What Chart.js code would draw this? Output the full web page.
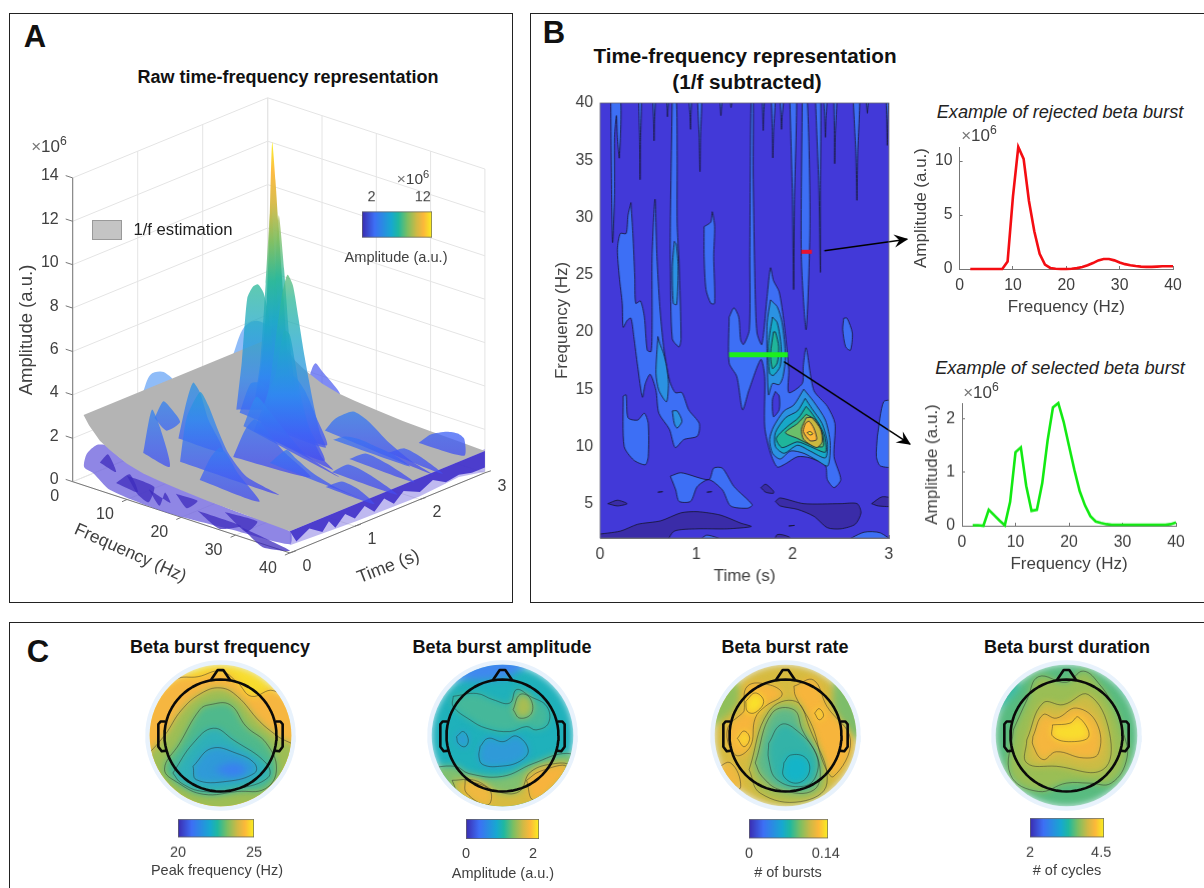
<!DOCTYPE html>
<html>
<head>
<meta charset="utf-8">
<title>Beta bursts</title>
<script src="https://cdn.jsdelivr.net/npm/chart.js@4"></script>
<style>
html,body{margin:0;padding:0;background:#fff;overflow:hidden}
#page{position:relative;width:1204px;height:888px;font-family:"Liberation Sans",Arial,sans-serif;color:#333}
#page canvas{position:absolute}
.box{position:absolute;border:1.4px solid #222;box-sizing:border-box}
.t{position:absolute;white-space:nowrap;transform:translate(-50%,-50%)}
.t sup{font-size:.72em;line-height:0}
</style>
</head>
<body>
<div id="page"></div>
<script>
'use strict';
// ---------- panel B, right side spectra
const freqHz = [2,3,4,5,6,7,8,9,10,11,12,13,14,15,16,17,18,19,20,21,22,23,24,25,26,27,28,29,30,31,32,33,34,35,36,37,38,39,40];
const rejected = [0,0,0,0,0,0,0,.7,6.7,11.3,10.2,6.3,3.5,1.4,.4,.1,.03,0,0,.02,.08,.18,.35,.55,.8,.92,.92,.8,.6,.45,.35,.27,.22,.2,.2,.22,.25,.25,.25];
const selected = [.01,.01,0,.3,.2,.1,.01,.45,1.38,1.47,.75,.28,.3,.8,1.6,2.22,2.3,1.95,1.5,1.05,.65,.38,.18,.08,.05,.03,.02,.02,.02,.02,.02,.02,.02,.02,.02,.02,.02,.03,.06];

// ---------- panel B contours, [time s, freq Hz]
const level0 = [[0,2],[3,2],[3,40],[0,40]];
const levelDark = [
 [[0,2.3],[.21,2.6],[.39,3.2],[.63,3.5],[.84,4.2],[1.01,4.3],[1.25,4],[1.46,3.3],[1.57,3],[1.32,2.8],[1.01,2.8],[.77,2.6],[.66,2],[0,2]],
 [[.08,5],[.18,5.3],[.28,5],[.18,4.8]],
 [[1.82,5.2],[1.87,5.5],[2.115,5],[2.5,5],[2.67,5],[2.71,4.2],[2.65,3.2],[2.5,2.8],[2.36,2.9],[2.22,3.9],[2.05,4.5],[1.87,4.8]],
 [[1.67,6.4],[1.72,6.7],[1.8,6.1],[1.8,5.9],[1.72,6]],
 [[2.82,5],[2.93,5.6],[3,5.4],[3,4.8],[2.89,4.8]],
 [[1.8,2],[1.84,2.3],[1.96,2.1],[2.01,2]],
 [[.6,6],[.65,6.05],[.6,6]],[[1.11,6],[1.16,6.05],[1.11,6]],[[1.96,3.05],[2.02,3.1],[1.96,3.05]]
];
// fingers hanging from the top edge: left t, right t, tip t, tip f
const topFingers = [[.40,.43,.415,33.3],[.546,.574,.56,36.7],[.69,.715,.70,38.8],[.92,.95,.94,37.7],[1.01,1.055,1.037,34],[1.24,1.27,1.255,38.9],[1.35,1.375,1.36,39.6],[1.683,1.707,1.694,37.6],[1.777,1.82,1.794,35.2],[1.867,1.908,1.884,37.7],[1.97,2.04,2.01,23.7],[2.236,2.29,2.288,25.2],[2.32,2.357,2.34,37],[2.427,2.46,2.437,34.7],[2.627,2.696,2.668,31.5],[2.76,2.79,2.776,39.1],[2.97,2.997,2.983,36.3]];
const level1 = [
 [[.11,40],[.12,32],[.13,27.8],[.15,32],[.15,37],[.17,38.9],[.18,37],[.2,35.2],[.21,40]],
 [[2.1,40],[2.09,26.6],[2.14,20.2],[2.18,29.5],[2.15,40]],
 [[.32,31.3],[.34,28.6],[.36,24.8],[.37,22.5],[.42,22.7],[.46,21.3],[.49,18.4],[.53,18.3],[.54,20.8],[.54,26.6],[.57,31.6],[.59,26.6],[.62,22.2],[.66,18.7],[.72,15.8],[.78,14.7],[.85,14.7],[.92,13.2],[1.03,12],[1.01,10.9],[.87,10.6],[.78,9.9],[.72,11.5],[.61,12.9],[.58,14.9],[.52,16.3],[.47,15.5],[.44,14.3],[.39,17],[.35,19.6],[.32,21.2],[.28,21],[.24,20.4],[.23,22.5],[.2,24.8],[.18,27.2],[.21,28.6],[.27,28.6],[.29,30.2]],
 [[.75,40],[.74,35.3],[.73,29.5],[.73,26],[.75,19.4],[.82,18.7],[.84,19.4],[.82,26],[.8,29.5],[.8,35.3],[.79,40]],
 [[1.08,29.2],[1.15,29.6],[1.165,30.5],[1.19,29.2],[1.18,26.6],[1.19,22.5],[1.15,22.5],[1.1,23.7],[1.08,26.6]],
 [[1.34,21.3],[1.39,22.1],[1.44,21.3],[1.46,19.3],[1.49,18.9],[1.55,20.2],[1.555,26.6],[1.56,33.8],[1.57,40],[1.59,40],[1.59,33.8],[1.61,23.7],[1.63,19.9],[1.68,18.9],[1.735,23.1],[1.77,25.6],[1.8,24.5],[1.86,23.5],[1.91,20.8],[1.96,16.7],[1.96,14.7],[2.1,15.5],[2.11,17],[2.14,18.6],[2.22,14.9],[2.36,13.5],[2.44,12],[2.43,9.1],[2.5,7.1],[2.43,6.4],[2.36,7.1],[2.34,8.3],[2.18,9],[2.05,9.1],[1.93,8.5],[1.84,8.2],[1.77,9.4],[1.71,11.7],[1.71,16.1],[1.67,17.6],[1.545,14.9],[1.48,13.2],[1.42,16.1],[1.34,17.3]],
 [[.24,14.4],[.27,14.5],[.29,12.5],[.39,12.3],[.46,12.9],[.5,12],[.5,9.1],[.47,8.4],[.35,8.8],[.25,10]],
 [[.73,7.4],[.84,7.7],[1.13,7.1],[1.18,8.1],[1.27,8.1],[1.39,6.5],[1.58,4.9],[1.53,4.6],[1.355,4.8],[1.27,6.2],[1.13,7.1],[1.01,6.5],[.94,5.2],[.82,5.2],[.785,6.2]],
 [[2.88,10.9],[2.945,13.9],[3,13.9],[3,8.3],[2.91,8.3],[2.87,9.1]],
 [[2.53,21.2],[2.565,21.2],[2.62,19.9],[2.6,18.4],[2.55,18.7],[2.52,20.2]],
 [[1,2],[1.11,2.25],[1.35,2]],[[2.5,2],[2.74,2.5],[2.91,2.45],[3,2]]
];
const levelHole = [[[1.82,14.8],[1.79,14.1],[1.8,12.6],[1.86,13.2],[1.86,14.4]]];
const level2 = [
 [[.6,19.6],[.58,16.4],[.61,14.9],[.69,13.9],[.71,15.5],[.69,17],[.66,18.1],[.62,19]],
 [[.75,13.1],[.77,12],[.8,11.6],[.85,12.2],[.8,13.1]],
 [[.77,27.9],[.75,25.7],[.76,22.5],[.795,22.4],[.81,25.7],[.79,27.7]],
 [[1.77,22.8],[1.735,20.8],[1.735,17.9],[1.75,14.5],[1.79,15.5],[1.86,15.4],[1.9,16.1],[1.925,17.9],[1.89,20.8],[1.84,22.2]],
 [[2.115,15],[2.01,13.6],[1.91,13.1],[1.8,11.7],[1.76,10.6],[1.79,9.4],[1.87,8.9],[1.98,9.6],[2.115,9.4],[2.25,8.8],[2.365,8.3],[2.39,10.3],[2.34,12.3],[2.22,13.9]]
];
const level3 = [
 [[1.79,21.3],[1.75,19],[1.76,16.4],[1.8,16.2],[1.87,17],[1.88,18.7],[1.84,20.8]],
 [[2.13,14.2],[2.05,13.1],[1.925,12.5],[1.82,11.2],[1.82,10],[1.91,9.4],[2.05,10.1],[2.18,9.6],[2.34,9],[2.36,10.3],[2.305,12],[2.2,13.3]]
];
const level4 = [
 [[1.8,20],[1.77,18.1],[1.79,16.8],[1.84,17.3],[1.855,18.7],[1.82,20]],
 [[2.14,13.5],[2.06,12.5],[1.94,11.7],[1.83,10.7],[1.89,9.9],[2.05,10.4],[2.18,10],[2.34,9.5],[2.33,10.9],[2.27,12],[2.19,13]]
];
const level5 = [[[2.14,12.8],[2.05,12],[1.925,11.2],[2.05,10.7],[2.2,10.1],[2.315,10],[2.305,11.2],[2.24,12.3]]];
const level6 = [[[2.14,12.5],[2.09,11.5],[2.115,10.6],[2.25,9.9],[2.305,10.4],[2.29,11.5],[2.2,12.5]]];
const level7 = [[[2.13,12],[2.11,11.3],[2.18,10.5],[2.25,10.6],[2.22,11.6],[2.17,12.2]]];
const level8 = [[[2.15,11.2],[2.18,11],[2.21,11.1],[2.18,11.3]]];
const rejectedBurst = [[2.09,27],[2.2,27]];
const selectedBurst = [[1.34,18],[1.95,18]];
const rejectedArrow = [[2.33,27.1],[3.19,28.1]];
const selectedArrow = [[1.91,17.4],[3.22,10.2]];

// ---------- panel A, 1/f plane and spectrum cuts through the surface
const planeF = [2,3,5,7,10,13,16,20,25,30,35,40];
const planeA = [3.24,2.85,2.3,2,1.65,1.45,1.35,1.25,1.15,1.1,1.05,1];
const backT = [2.3,.9,2.4];
const backF = [[2,4,6.3,9,11.2],[2.2,3.5,5.3,6.5,7.5],[14.7,15.9,17,20.5]];
const backA = [[3.18,4.6,5.1,5,4.65],[3.22,4.1,4.4,4.4,4.2],[3,3.8,3.6,2.73]];
const cutT = [2.25,2.15,2.05,1.9,1.85,1.8,1.75,1.7,2.2,1.85,2.75,1.6,1.4,1.1,1,.8,.75,.55,.45,2.35,2.0,1.65,1.3];
const cutF = [
 [8,9,10,11,12,13,14,15],[8,9,10,10.5,11,11.6,12.2,13,14,15,16],[9,10,11,12,13,14,15,16],[8,10,12,14,16,18,20,22,24],[8,9,10,11,12,13,14,15,16],
 [13,14,15,16,17,18,19,20,21,22,23,24,25],[13,15,16,17,18,19,20,21,23,25,27],[13,15,17,19,21,23,26],
 [20.1,22,25.3,28,32,36,40],[25.8,28,30.8,34,37,40],[30.8,33,36,38,39.2,39.2],
 [12.3,14.7,17,20,24,30],[12.8,15,16.8,19,22,27],[23.1,26.2,28,31,35,39.5],[7.5,9,10.2,11.5,13,15.7],
 [5.5,7.1,8.5,10.2,7.7],[10.8,12,14.5,16,18,19.7,23,29],[6.4,8,9.5,11.3],[18,20,21.7,23,25,29],
 [30,33,36,40],[27,30,34,39],[28,31,35,40],[31,34,37,40]
];
const cutA = [
 [2,3.5,6,10.4,8,4.8,2.8,1.6],[1.9,3.5,6.5,10,13.9,12.2,10,7.2,3.8,2.1,1.4],[2,3.8,7.5,11.2,7.5,4.2,2.4,1.5],[1.5,3,3.2,3,3.5,4,3.5,2.5,1.3],[1.7,4,7,7.6,7.8,7.5,6.5,4.5,2.5],
 [1.5,2.5,4,6,7.8,8.8,8.4,7,5.5,4.2,3,2,1.4],[1.2,2.4,3.6,5,6.3,6.2,5,3.6,1.9,1,.6],[1.3,2.8,4.2,4.6,3.8,2.4,1],
 [1.3,2,2.6,2.4,1.7,1.2,.9],[1.77,2.1,2.2,2.1,2,1.7],[.93,1.5,1.87,1.95,1.8,1.03],
 [1.6,3.15,2.7,2,1.2,.7],[.47,1.9,2.53,2.2,1.5,.7],[1.4,2.26,2,1.6,1.3,1.15],[1.38,3.2,4.17,3.8,2.7,1.44],
 [2.4,3.3,3.1,2.6,2],[.88,3,4.4,3.9,2.8,2,1.2,.84],[1.17,3.3,2.6,.94],[1,2.2,2.8,2.6,1.9,.9],
 [.9,1.35,1.2,.75],[.8,1.3,1.15,.7],[.7,1.3,1.15,.65],[.7,1.2,1.1,.65]
];
// under the plane, front edge at t=0
const underF = [6,4.4,2.6,2.1,3.8,6.9,17.3,29.6,40,40,30,20,10];
const underA = [2.2,2.05,1.5,.85,.7,.18,0,.2,.4,1,1.1,1.3,1.7];
const shardF = [[8,10.5,12],[14,16,17,18],[23,27,31],[31,35,40],[10,12,14,15],[5,6.5,8],[19,21,23],[28,32,34]];
const shardA = [[.6,1.2,.5],[.8,.2,.9,.5],[.55,.05,.5],[.45,-.15,.1],[1.1,.4,.2,1],[1.3,1.8,1.1],[1,.5,1],[.9,.3,.95]];
// right edge at f=40
const edgeT = [0,.1,.3,.5,.6,.7,.85,1,1.15,1.3,1.45,1.6,1.75,2,2.2,2.4,2.6,2.8,3,3,2,1,0];
const edgeA = [1,.4,.75,.35,.72,.3,.75,.35,.75,.3,.72,.3,.7,.35,.65,.3,.4,.25,.25,1,1,1,1];
const edgeSoftT = [0,1,2,2.6,3,3,0];
const edgeSoftA = [.35,.2,.15,.3,.05,1.1,1];
const ampTicks = [0,2,4,6,8,10,12,14];
const freqTicks = [10,20,30,40];
const timeTicks = [0,1,2,3];

// ---------- panel C maps, head radius = 1
const mapColors = [
 ['#f7dc2e','#f6b640','#9dbe55','#4fb98c','#2fb0b8','#2f9ad8','#3a80f0'],
 ['#1fb1bb','#3f88ee','#45b89a','#a8bd52','#2f9ad8','#2f9ad8','#7fc070','#d6bb40','#f7b33d','#f0b840'],
 ['#d6bb40','#8fbf5a','#7dbd6a','#f7b53c','#f7b53c','#f0b840','#a8bd52','#5fb98a','#33b3a8','#14b4c8','#f9e12a','#f9d830','#f9d830'],
 ['#58bb80','#35b9a0','#35b9a0','#9abe55','#ccbc45','#f5b63e','#f9dc2e']
];
const mapFrequency = [
 [[-1.4,.5],[-.8,1],[-.4,1.05],[0,1.15],[.3,.95],[.55,.7],[.95,.8],[1.4,.4],[1.4,-.3],[1.4,-1.5],[-1.4,-1.5],[-1.4,-.3]],
 [[-1.4,-.45],[-1,0],[-.7,.45],[-.35,.75],[0,.85],[.3,.7],[.7,.25],[1,0],[1.4,-.3],[1.4,-1.5],[-1.4,-1.5]],
 [[-.73,-.14],[-.37,.46],[-.19,.55],[.17,.55],[.46,.16],[.82,-.14],[1,-.6],[.8,-.95],[.3,-1],[-.3,-1.05],[-.75,-.85],[-1,-.6]],
 [[-.85,-.67],[-.49,-.14],[-.13,.13],[.23,-.08],[.82,-.5],[.85,-.75],[.3,-.95],[-.3,-1],[-.7,-.85]],
 [[-.49,-.55],[-.16,-.23],[.29,-.32],[.61,-.5],[.61,-.67],[.11,-.82],[-.43,-.79]],
 [[-.13,-.61],[.23,-.49],[.46,-.61],[.23,-.73]]
];
const mapAmplitude = [
 [[-1,1],[-.2,1],[.2,1.1],[.5,1.4],[-.6,1.5]],
 [[-.88,.7],[-.46,.75],[-.17,.64],[.13,.58],[.25,.82],[.49,.7],[.79,.52],[.82,.22],[.6,.1],[.43,.16],[.13,.07],[-.29,.13],[-.58,.28],[-.88,.52]],
 [[.19,.46],[.31,.73],[.49,.67],[.52,.4],[.31,.31]],
 [[-.4,-.2],[-.26,-.05],[.01,-.11],[.25,-.01],[.46,-.26],[.31,-.46],[-.05,-.55],[-.35,-.52],[-.42,-.38]],
 [[-.82,-.02],[-.7,.07],[-.61,-.08],[-.67,-.2],[-.79,-.14]],
 [[-1.4,-.6],[-.85,-.55],[-.6,-.68],[0,-.73],[.55,-.5],[1.15,-.32],[1.4,-.5],[1.4,-1.5],[-1.4,-1.5]],
 [[-.9,-.8],[-.5,-.8],[-.1,-1],[.3,-1],[.5,-.65],[.95,-.5],[1.2,-.55],[1.1,-.9],[.6,-1.4],[-.6,-1.4]],
 [[.43,-.8],[.67,-.64],[1.14,-.55],[.9,-.91],[.55,-1.15]],
 [[-.67,-.79],[-.23,-.97],[-.26,-1.24],[-.64,-1.03]]
];
const mapRate = [
 [[-1.4,.1],[-.9,.5],[-.85,.9],[-1.1,1.1],[-1.5,.4]],
 [[.85,.95],[.9,.4],[1.4,-.1],[1.5,.5],[1.1,1.1]],
 [[-.74,.43],[-.68,.88],[-.27,.9],[-.06,.73],[-.36,.52],[-.54,.31],[-.63,-.2],[-.89,-.35],[-1.04,.1]],
 [[.15,.88],[.5,.99],[.74,.52],[1.16,-.08],[.86,-.73],[.68,-.5],[.48,.16],[.18,.7]],
 [[-1.25,-.6],[-.98,-.49],[-.8,-.91],[-1,-1]],
 [[-.65,-.61],[-.3,.43],[.18,.61],[.42,.16],[.74,-.85],[.27,-1.18],[-.45,-1.03]],
 [[-.54,-.49],[-.24,.4],[.15,.46],[.3,.1],[.6,-.49],[.51,-.97],[-.09,-.97],[-.42,-.73]],
 [[-.3,-.14],[-.09,.19],[.15,.13],[.54,-.32],[.54,-.73],[.3,-.91],[-.15,-.79],[-.3,-.43]],
 [[-.03,-.49],[.09,-.35],[.36,-.4],[.42,-.67],[.21,-.85],[-.03,-.73]],
 [[-.71,.61],[-.54,.76],[-.39,.61],[-.54,.41],[-.68,.43]],
 [[-.86,-.05],[-.74,.08],[-.64,-.05],[-.74,-.2]],
 [[.52,.4],[.6,.48],[.68,.36],[.6,.28]]
];
const mapDuration = [
 [[-1.4,.3],[-.9,.75],[-.85,.95],[-1.2,1]],
 [[.9,.95],[1.4,.4],[1.2,1]],
 [[-.95,.1],[-.7,.65],[-.5,1.05],[0,.95],[.3,1.15],[.6,.9],[.85,.5],[1,.1],[1.08,-.4],[.8,-.85],[.4,-.85],[0,-.85],[-.5,-1],[-1,-.7]],
 [[-.71,-.08],[-.42,.58],[-.06,.55],[.39,.73],[.77,.04],[.65,-.61],[-.18,-.55],[-.71,-.49]],
 [[-.6,-.02],[-.42,.37],[-.18,.31],[.18,.49],[.54,.22],[.57,-.32],[.3,-.4],[-.18,-.29],[-.42,-.43],[-.6,-.17]],
 [[-.25,.19],[.06,.22],[.21,.33],[.4,-.01],[.09,-.11],[-.24,-.02]]
];

const FONT = '"Liberation Sans",Arial,sans-serif';
const INK = '#404040';
const PARULA = [[0,'#3a2bb0'],[.18,'#3d6ff5'],[.42,'#17a8d0'],[.52,'#1fb8a0'],[.65,'#7cbf62'],[.78,'#d0b945'],[.88,'#fcb83a'],[1,'#f9f020']];
const SURFACE = [[0,'#4646ee'],[.12,'#3f62f5'],[.25,'#3088f0'],[.42,'#1fa8c8'],[.55,'#2cb89a'],[.68,'#80bf62'],[.8,'#d8b945'],[.9,'#fcb83a'],[1,'#f9f020']];
Chart.defaults.font.family = FONT;
Chart.defaults.animation = false;
Chart.defaults.responsive = false;
Chart.defaults.plugins.legend.display = false;
Chart.defaults.plugins.tooltip.enabled = false;

const page = document.getElementById('page');
function txt(x,y,html,o){
  o = o||{};
  const d = document.createElement('div');
  d.className = 't';
  d.innerHTML = html;
  d.style.left = x+'px'; d.style.top = y+'px';
  d.style.fontSize = (o.size||14)+'px';
  d.style.fontWeight = o.bold?'bold':'normal';
  d.style.fontStyle = o.italic?'italic':'normal';
  d.style.color = o.color||INK;
  if(o.rot) d.style.transform = 'translate(-50%,-50%) rotate('+o.rot+'deg)';
  page.appendChild(d);
}
function box(l,t,w,h,bg){
  const d = document.createElement('div');
  d.className = 'box';
  d.style.cssText = 'left:'+l+'px;top:'+t+'px;width:'+w+'px;height:'+h+'px;'+(bg||'');
  page.appendChild(d);
  return d;
}
function canvasAt(l,t,w,h){
  const c = document.createElement('canvas');
  c.width = w; c.height = h;
  c.style.left = l+'px'; c.style.top = t+'px';
  c.style.width = w+'px'; c.style.height = h+'px';
  page.appendChild(c);
  return c;
}
function shape(pts,fillColor,lineColor,lw,tension){
  const data = pts.map(p=>({x:p[0],y:p[1]}));
  data.push({x:pts[0][0],y:pts[0][1]});
  return {data,showLine:true,pointRadius:0,fill:fillColor?'shape':false,backgroundColor:fillColor||'transparent',
    borderColor:lineColor||'transparent',borderWidth:lw||0,tension:tension==null?.3:tension,borderJoinStyle:'round',clip:false};
}
function painter(list){ list.forEach((d,i)=>{d.order=list.length-i}); return list; }
function gradientFor(ctx,y0,y1,alpha,stops){
  const g = ctx.createLinearGradient(0,y0,0,y1);
  stops.forEach(s=>{
    const r=parseInt(s[1].slice(1,3),16),gg=parseInt(s[1].slice(3,5),16),b=parseInt(s[1].slice(5,7),16);
    g.addColorStop(s[0],'rgba('+r+','+gg+','+b+','+alpha+')');
  });
  return g;
}

// fixed plot rectangle: the canvas is built around it
function plot(rect,yw,xh,xOpt,yOpt,datasets,plugins,padR){
  const pr = padR||26, pt = 24;
  const c = canvasAt(rect[0]-yw,rect[1]-pt,rect[2]-rect[0]+yw+pr,rect[3]-rect[1]+pt+xh);
  const tickFont = {size:15.8};
  function axis(o,isY,size){
    return Object.assign({type:'linear',
      border:{color:'#777',width:1},
      grid:{drawOnChartArea:false,tickLength:-3,color:'#777',tickWidth:1},
      ticks:{color:INK,font:tickFont,padding:10,maxRotation:0,autoSkip:false},
      afterFit:s=>{ if(isY) s.width=size; else s.height=size; }
    },o);
  }
  return new Chart(c,{type:'scatter',data:{datasets:painter(datasets)},
    options:{layout:{padding:{top:pt,right:pr,left:0,bottom:0}},
      scales:{x:axis(xOpt,false,xh),y:axis(yOpt,true,yw)}},plugins:plugins||[]});
}
function tickList(vals){ return s=>{ s.ticks = vals.map(v=>({value:v})); }; }
function titleOf(text){ return {display:true,text,color:INK,font:{size:17},padding:0}; }

// ---------- frames and panel text
box(9,13,504,590);
box(530,13,690,590);
box(9,622,1210,280);
txt(35,37,'A',{size:31,bold:true,color:'#111'});
txt(554,33,'B',{size:31,bold:true,color:'#111'});
txt(38,652,'C',{size:31,bold:true,color:'#111'});
txt(288,77,'Raw time-frequency representation',{size:18,bold:true,color:'#111'});
txt(745,56,'Time-frequency representation',{size:20.7,bold:true,color:'#111'});
txt(747,82,'(1/f subtracted)',{size:20.7,bold:true,color:'#111'});
txt(1060,112,'Example of rejected beta burst',{size:18.2,italic:true,color:'#222'});
txt(1060,368,'Example of selected beta burst',{size:18.2,italic:true,color:'#222'});
txt(220,647,'Beta burst frequency',{size:18,bold:true,color:'#111'});
txt(502,647,'Beta burst amplitude',{size:18,bold:true,color:'#111'});
txt(785,647,'Beta burst rate',{size:18,bold:true,color:'#111'});
txt(1067,647,'Beta burst duration',{size:18,bold:true,color:'#111'});

// ---------- panel A
const AX0=72.7, AY0=481.7, FX=5.43, FY=1.78, TX=65, TY=26.7, AZ=21.7;
function proj(f,t,a){ return [f*FX+t*TX, a*AZ+t*TY-f*FY]; }
(function(){
  const L=12,T=92,W=498,H=504;
  const xMin=L-AX0, yMax=AY0-T;
  const c = canvasAt(L,T,W,H);
  const ds = [];
  const seg = (a,b,color,lw)=>({data:[a,b].map(p=>({x:p[0],y:p[1]})),showLine:true,pointRadius:0,borderColor:color,borderWidth:lw||1,clip:false});
  // walls and floor grid
  const grid='#e4e4e4';
  ampTicks.forEach(a=>{
    ds.push(seg(proj(0,0,a),proj(0,3,a),grid));
    ds.push(seg(proj(0,3,a),proj(40,3,a),grid));
  });
  timeTicks.forEach(t=>{ ds.push(seg(proj(0,t,0),proj(0,t,14),grid)); ds.push(seg(proj(0,t,0),proj(40,t,0),grid)); });
  [0].concat(freqTicks).forEach(f=>{ ds.push(seg(proj(f,3,0),proj(f,3,14),grid)); ds.push(seg(proj(f,0,0),proj(f,3,0),grid)); });
  // box axes
  ds.push(seg(proj(0,0,0),proj(0,0,14),'#777'));
  ds.push(seg(proj(0,0,0),proj(40,0,0),'#777'));
  ds.push(seg(proj(40,0,0),proj(40,3,0),'#777'));
  ampTicks.forEach(a=>{ const p=proj(0,0,a); ds.push(seg(p,[p[0]-7,p[1]+2.3],'#777')); });
  freqTicks.forEach(f=>{ const p=proj(f,0,0); ds.push(seg(p,[p[0]-5,p[1]-2.2],'#777')); });
  timeTicks.forEach(t=>{ const p=proj(40,t,0); ds.push(seg(p,[p[0]+6,p[1]+2],'#777')); });
  // what stands behind the plane
  backT.forEach((t,i)=>{
    const pts = backF[i].map((f,j)=>proj(f,t,backA[i][j]));
    ds.push(shape(pts,i===2?'rgba(85,100,240,.75)':'rgba(95,160,245,.7)',null,0,.35));
  });
  // below the plane
  ds.push(shape(underF.map((f,i)=>proj(f,0,underA[i])),'rgba(112,100,222,.78)',null,0,.25));
  shardF.forEach((fs,i)=> ds.push(shape(fs.map((f,j)=>proj(f,0,shardA[i][j])),'rgba(62,44,190,.75)',null,0,.2)));
  ds.push(shape(edgeSoftT.map((t,i)=>proj(40,t,edgeSoftA[i])),'rgba(112,100,222,.45)',null,0,0));
  // the 1/f plane
  const planePts = planeF.map((f,i)=>proj(f,0,planeA[i])).concat(planeF.slice().reverse().map((f,i)=>proj(f,3,planeA[planeA.length-1-i])));
  ds.push(shape(planePts,'#b4b4b4',null,0,0));
  // right edge band, in front of the plane
  ds.push(shape(edgeT.map((t,i)=>proj(40,t,edgeA[i])),'rgba(60,44,200,.88)',null,0,0));
  // cuts through the surface, back to front
  const order = cutT.map((t,i)=>i).sort((a,b)=>cutT[b]-cutT[a]);
  order.forEach(i=>{
    const t=cutT[i];
    const pts = cutF[i].map((f,j)=>proj(f,t,cutA[i][j]));
    const fm = (cutF[i][0]+cutF[i][cutF[i].length-1])/2;
    const d = shape(pts,'#3d6ff5',null,0,.22);
    const alpha = t===2.15?.95:.76;
    d.backgroundColor = ctx=>{
      const ch=ctx.chart;
      if(!ch.chartArea) return '#3d6ff5';
      const a0=proj(fm,t,0), a1=proj(fm,t,14);
      return gradientFor(ch.ctx,ch.scales.y.getPixelForValue(a0[1]),ch.scales.y.getPixelForValue(a1[1]),alpha,SURFACE);
    };
    ds.push(d);
  });
  const labels3d = {id:'labels3d',afterDraw(ch){
    const g=ch.ctx, sx=ch.scales.x, sy=ch.scales.y;
    const put=(p,dx,dy,s,size,rot,align)=>{
      g.save();
      g.translate(sx.getPixelForValue(p[0])+dx,sy.getPixelForValue(p[1])+dy);
      if(rot) g.rotate(rot*Math.PI/180);
      g.font=size+'px '+FONT; g.fillStyle=INK; g.textAlign=align||'center'; g.textBaseline='middle';
      g.fillText(s,0,0); g.restore();
    };
    ampTicks.forEach(a=>put(proj(0,0,a),-14,-2,String(a),16,0,'right'));
    put(proj(0,0,0),-18,15,'0',16);
    freqTicks.forEach(f=>put(proj(f,0,0),-22,15.5,String(f),16));
    timeTicks.forEach(t=>put(proj(40,t,0),17,13.5,String(t),16));
    put(proj(20,0,0),-51,36,'Frequency (Hz)',17.5,24);
    put(proj(40,1.5,0),1,54,'Time (s)',18,-21);
  }};
  new Chart(c,{type:'scatter',data:{datasets:painter(ds)},plugins:[labels3d],
    options:{layout:{padding:0},scales:{
      x:{type:'linear',display:false,min:xMin,max:xMin+W},
      y:{type:'linear',display:false,min:yMax-H,max:yMax}}}});
})();
txt(26,330,'Amplitude (a.u.)',{size:18.5,rot:-90});
txt(49,147,'<span style="color:#777">×</span>10<sup>6</sup>',{size:17});
box(91.5,220,30,20,'background:#c4c4c4;border:1px solid #999;');
txt(183,230,'1/f estimation',{size:16.7,color:'#222'});
txt(413,179,'<span style="color:#777">×</span>10<sup>6</sup>',{size:15.5});
txt(396,257,'Amplitude (a.u.)',{size:14.6});

// ---------- colour bars
function colorbar(rect,min,max,tickVals,label,top){
  const xh = 26, side = 32, pad = top?26:0;
  const c = canvasAt(rect[0]-side,rect[1]-pad-1,rect[2]-rect[0]+2*side,rect[3]-rect[1]+pad+xh+2);
  new Chart(c,{type:'bar',
    data:{labels:['cb'],datasets:[{data:[[min,max]],barPercentage:1,categoryPercentage:1,borderSkipped:false,borderWidth:1,borderColor:'#666',
      backgroundColor:ctx=>{
        const ch=ctx.chart;
        if(!ch.chartArea) return '#3d6ff5';
        const a=ch.chartArea, g=ch.ctx.createLinearGradient(a.left,0,a.right,0);
        PARULA.forEach(s=>g.addColorStop(s[0],s[1]));
        return g;
      }}]},
    options:{indexAxis:'y',layout:{padding:{left:side,right:side,top:top?0:1,bottom:top?xh+1:0}},
      scales:{
        y:{display:false},
        x:{type:'linear',position:top?'top':'bottom',min,max,border:{display:false},
          grid:{display:false,drawTicks:false},
          afterBuildTicks:tickList(tickVals),
          afterFit:s=>{ s.height = top?pad:xh; },
          ticks:{color:INK,font:{size:14.5},padding:top?5:6,maxRotation:0,autoSkip:false,callback:v=>String(v)}}}}});
  if(label) txt(label[0],label[1],label[2],{size:14.5});
}
colorbar([361.7,212.3,431.7,237.7],.15,13.8,[2,12],null,true);
colorbar([178.3,819.3,254.3,836.7],20,25,[20,25],[217,870,'Peak frequency (Hz)']);
colorbar([466,819.3,539.3,838.3],0,2.18,[0,2],[503,873,'Amplitude (a.u.)']);
colorbar([749,819.3,828,838],0,.144,[0,.14],[788,872,'# of bursts']);
colorbar([1030,818.3,1104,836.7],2,4.6,[2,4.5],[1067,870,'# of cycles']);

// ---------- panel B heat map
(function(){
  const stroke='#15152e', lw=.8;
  const colors={dark:'#3a2ca8',l0:'#4239d8',l1:'#3d6ff5',l2:'#2b92e2',l3:'#17a8c8',l4:'#1fb59a',l5:'#6cbf6a',l6:'#c9b840',l7:'#fcb83a',l8:'#f9e22a'};
  // polygons that reach the frame are pushed past it so their outline stays out of the plot
  const past=p=>[p[0]<=0?-.05:p[0]>=3?3.05:p[0],p[1]<=2?1.5:p[1]>=40?40.6:p[1]];
  const clipped=d=>{ delete d.clip; return d; };
  const ds=[shape(level0,colors.l0,null,0,0)];
  const add=(list,col)=>list.forEach(p=>ds.push(clipped(shape(p.map(past),col,stroke,lw,.25))));
  add(levelDark,colors.dark);
  topFingers.forEach(f=>ds.push(clipped(shape([[f[0],40],[f[0]+(f[2]-f[0])*.7,(40+f[3])/2],[f[2],f[3]],[f[1]-(f[1]-f[2])*.7,(40+f[3])/2],[f[1],40]].map(past),colors.l1,stroke,lw,.15))));
  add(level1,colors.l1); add(levelHole,colors.l0); add(level2,colors.l2); add(level3,colors.l3);
  add(level4,colors.l4); add(level5,colors.l5); add(level6,colors.l6); add(level7,colors.l7); add(level8,colors.l8);
  const bar=(pts,col,w)=>({data:pts.map(p=>({x:p[0],y:p[1]})),showLine:true,pointRadius:0,borderColor:col,borderWidth:w,borderCapStyle:'butt',clip:false});
  ds.push(bar(rejectedBurst,'#e8122e',4));
  ds.push(bar(selectedBurst,'#1cf01c',5));
  ds.push(bar(rejectedArrow,'#000',1.5));
  ds.push(bar(selectedArrow,'#000',1.5));
  const heads={id:'heads',afterDatasetsDraw(ch){
    const g=ch.ctx,sx=ch.scales.x,sy=ch.scales.y;
    [rejectedArrow,selectedArrow].forEach(a=>{
      const x1=sx.getPixelForValue(a[1][0]),y1=sy.getPixelForValue(a[1][1]);
      const x0=sx.getPixelForValue(a[0][0]),y0=sy.getPixelForValue(a[0][1]);
      g.save(); g.translate(x1,y1); g.rotate(Math.atan2(y1-y0,x1-x0));
      g.fillStyle='#000'; g.beginPath();
      g.moveTo(1,0); g.lineTo(-13,-6.5); g.lineTo(-8,0); g.lineTo(-13,6.5); g.closePath(); g.fill();
      g.restore();
    });
    const a=ch.chartArea; g.save(); g.strokeStyle='#667'; g.lineWidth=.8; g.strokeRect(a.left,a.top,a.right-a.left,a.bottom-a.top); g.restore();
  }};
  plot([600,102.7,888.7,538],48,49,
    {min:0,max:3,title:titleOf('Time (s)'),afterBuildTicks:tickList([0,1,2,3])},
    {min:2,max:40,title:titleOf('Frequency (Hz)'),afterBuildTicks:tickList([5,10,15,20,25,30,35,40])},
    ds,[heads],50);
})();

// ---------- spectra
function spectrum(rect,vals,color,yMax,yTicks,yw){
  const d=[{data:freqHz.map((f,i)=>({x:f,y:vals[i]})),showLine:true,pointRadius:0,borderColor:color,borderWidth:2.6,tension:0,clip:false}];
  plot(rect,yw,49,
    {min:0,max:40,title:titleOf('Frequency (Hz)'),afterBuildTicks:tickList([0,10,20,30,40])},
    {min:0,max:yMax,title:titleOf('Amplitude (a.u.)'),afterBuildTicks:tickList(yTicks)},
    d,[],28);
}
spectrum([959.3,146.7,1173.3,268.7],rejected,'#f40d12',11.3,[0,5,10],48.6);
spectrum([962,403.3,1176,526],selected,'#12ea12',2.3,[0,1,2],40);
txt(979,136,'<span style="color:#777">×</span>10<sup>6</sup>',{size:17});
txt(981,393,'<span style="color:#777">×</span>10<sup>6</sup>',{size:17});

// ---------- panel C maps
function circle(r){ const p=[]; for(let i=0;i<72;i++){ const a=i/72*2*Math.PI; p.push([r*Math.cos(a),r*Math.sin(a)]); } return p; }
function headMap(cx,cy,polys,colors,noLine){
  const S=56, R=1.42, size=Math.round(2*R*S);
  const c=canvasAt(cx-size/2,cy-size/2,size,size);
  const ds=[shape(circle(1.345),'#e8f2fc',null,0,0),shape(circle(1.27),colors[0],null,0,0)];
  polys.forEach((p,i)=>ds.push(shape(p,colors[i+1],null,0,.42)));
  const blurEnd=ds.length-1;
  polys.forEach((p,i)=>{ if(!noLine.includes(i)) ds.push(shape(p,null,'rgba(35,35,35,.6)',.75,.42)); });
  const clipEnd=ds.length-1;
  const line=(pts,closed)=>{ const d=shape(pts,null,'#0a0a0a',2.6,0); if(!closed) d.data.pop(); return d; };
  ds.push(line(circle(1),true));
  ds.push(line([[-.17,.99],[-.05,1.17],[.05,1.17],[.17,.99]]));
  ds.push(line([[-.99,.25],[-1.07,.25],[-1.11,.2],[-1.11,-.2],[-1.05,-.28],[-.96,-.27]]));
  ds.push(line([[.99,.25],[1.07,.25],[1.11,.2],[1.11,-.2],[1.05,-.28],[.96,-.27]]));
  const soft={id:'soft',afterDatasetDraw(ch,args){
    const g=ch.ctx;
    if(args.index===0){
      g.save(); g.beginPath();
      g.arc(ch.scales.x.getPixelForValue(0),ch.scales.y.getPixelForValue(0),1.265*S,0,Math.PI*2);
      g.clip(); g.filter='blur(3.5px)';
    }
    if(args.index===blurEnd) g.filter='none';
    if(args.index===clipEnd) g.restore();
  }};
  new Chart(c,{type:'scatter',data:{datasets:painter(ds)},plugins:[soft],
    options:{layout:{padding:0},scales:{
      x:{type:'linear',display:false,min:-size/2/S,max:size/2/S},
      y:{type:'linear',display:false,min:-size/2/S,max:size/2/S}}}});
}
headMap(220.7,735.8,mapFrequency,mapColors[0],[5]);
headMap(502.7,735.8,mapAmplitude,mapColors[1],[0]);
headMap(785,735.8,mapRate,mapColors[2],[0,1]);
headMap(1066.7,735.8,mapDuration,mapColors[3],[0,1]);
</script>
</body>
</html>
